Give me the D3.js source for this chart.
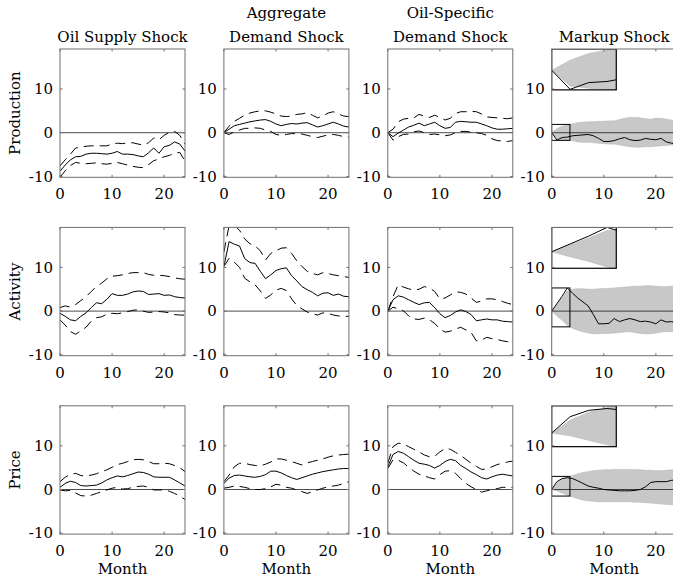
<!DOCTYPE html>
<html>
<head>
<meta charset="utf-8">
<script src="https://cdn.jsdelivr.net/npm/d3@7"></script>
<style>
  body { margin: 0; background: #fff; }
</style>
</head>
<body>
<div id="chart"></div>
<script>
// months 0..24
const months = d3.range(0, 25)
const shocks = [['Oil Supply Shock'], ['Aggregate', 'Demand Shock'], ['Oil-Specific', 'Demand Shock'], ['Markup Shock']]
const variables = ['Production', 'Activity', 'Price']
const xTicks = [0, 10, 20]
const yTicks = [-10, 0, 10]

// Production
const prodSupplyMed = [-8.8, -7.4, -6.2, -5.5, -5.4, -4.9, -4.7, -4.7, -4.8, -4.9, -4.7, -4.3, -4.9, -4.9, -5.0, -5.3, -5.5, -4.6, -3.5, -4.7, -3.2, -2.9, -2.1, -2.6, -4.2]
const prodSupplyHi = [-7.6, -6.2, -4.9, -3.5, -3.3, -3.1, -3.0, -3.0, -3.0, -3.0, -2.6, -2.4, -2.5, -2.3, -2.3, -2.6, -2.8, -2.3, -1.2, -1.6, -0.6, 0.1, 0.3, -0.6, -2.6]
const prodSupplyLo = [-10.2, -8.7, -7.5, -6.8, -7.0, -7.1, -7.0, -6.9, -7.1, -7.2, -7.0, -6.8, -7.1, -7.4, -7.7, -7.9, -8.0, -7.3, -6.4, -6.0, -5.5, -5.2, -4.7, -4.5, -6.5]

const prodAggMed = [0, 0.8, 1.6, 1.9, 2.2, 2.5, 2.7, 2.9, 3.0, 2.6, 2.0, 1.6, 1.9, 2.1, 2.0, 2.2, 2.3, 1.8, 1.3, 1.6, 2.0, 2.4, 2.0, 1.5, 1.3]
const prodAggHi = [0, 1.5, 2.6, 3.3, 4.0, 4.5, 4.8, 5.0, 5.0, 4.7, 4.3, 3.8, 3.7, 3.8, 4.2, 4.3, 4.6, 4.0, 3.4, 3.8, 4.5, 4.8, 4.3, 3.8, 3.7]
const prodAggLo = [0, -0.4, 0.2, 0.6, 1.0, 1.0, 1.1, 1.0, 0.6, 0.3, -0.4, -0.6, -0.4, -0.2, -0.2, -0.3, -0.6, -0.9, -1.1, -0.8, -0.5, -0.4, -0.6, -0.9, -1.0]

const prodOilMed = [0, -0.9, -0.1, 0.6, 1.3, 1.7, 2.2, 1.6, 2.0, 2.4, 1.6, 1.0, 1.2, 2.4, 2.6, 2.5, 2.4, 2.4, 2.0, 1.6, 1.1, 0.8, 0.8, 0.9, 1.0]
const prodOilHi = [0, 0.8, 2.5, 3.1, 3.3, 3.4, 4.2, 3.8, 3.5, 4.0, 3.5, 2.9, 3.3, 4.4, 4.8, 4.8, 4.9, 4.8, 4.3, 3.6, 3.5, 3.4, 3.3, 3.2, 3.4]
const prodOilLo = [0, -1.7, -0.9, -0.4, -0.3, 0.2, 0.4, 0.0, -0.4, -0.3, -0.5, -0.7, -0.5, 0.0, 0.3, 0.3, 0.1, 0.0, -0.2, -0.6, -1.4, -1.8, -1.9, -2.0, -1.8]

const prodMarkupMed = [0, -1.7, -1.1, -1.0, -0.7, -0.6, -0.5, -0.4, -0.7, -1.3, -2.0, -2.0, -1.8, -1.4, -1.1, -1.6, -1.8, -1.7, -1.3, -1.5, -1.6, -1.3, -2.1, -2.4, -2.6]
const prodMarkupHi = [0, 0.9, 1.5, 1.8, 2.0, 2.3, 2.4, 2.5, 2.5, 2.6, 2.6, 2.7, 2.7, 3.0, 3.3, 3.5, 3.5, 3.4, 3.2, 3.1, 3.3, 3.3, 3.1, 2.9, 2.9]
const prodMarkupLo = [0, -1.4, -1.6, -1.7, -1.8, -2.1, -2.2, -2.2, -2.3, -2.4, -2.5, -2.6, -2.6, -2.8, -3.0, -3.2, -3.3, -3.3, -3.2, -3.2, -3.1, -3.0, -2.9, -2.8, -2.8]

// Activity
const actSupplyMed = [-0.5, -1.2, -2.0, -2.2, -1.2, -0.4, 0.8, 1.9, 1.7, 2.7, 4.0, 3.6, 3.6, 3.9, 4.4, 4.6, 4.5, 3.8, 3.9, 4.0, 3.6, 3.7, 3.3, 3.1, 3.0]
const actSupplyHi = [0.8, 1.2, 0.9, 1.5, 2.4, 3.3, 4.5, 5.6, 6.4, 7.4, 8.0, 8.1, 8.3, 8.6, 8.8, 8.8, 8.8, 8.4, 8.2, 8.2, 8.1, 7.9, 7.6, 7.4, 7.3]
const actSupplyLo = [-2.0, -3.2, -4.7, -5.3, -4.5, -3.7, -2.3, -1.5, -1.3, -0.7, -0.5, -0.6, -0.4, -0.1, 0.2, 0.3, 0.0, -0.3, -0.2, -0.1, -0.2, -0.4, -0.8, -0.9, -0.9]

const actAggMed = [10.2, 15.9, 15.3, 14.9, 12.0, 11.1, 10.9, 9.1, 7.4, 8.3, 9.3, 9.7, 9.9, 8.1, 6.9, 5.6, 4.9, 4.3, 3.5, 4.1, 4.2, 3.6, 3.9, 3.4, 3.3]
const actAggHi = [13.5, 19.6, 19.6, 18.5, 16.5, 15.4, 14.9, 13.8, 11.7, 13.2, 13.8, 14.4, 14.5, 13.2, 11.5, 10.2, 9.1, 8.6, 8.3, 8.8, 8.6, 8.3, 8.1, 7.9, 7.7]
const actAggLo = [10.2, 12.1, 11.2, 10.0, 7.5, 6.7, 6.0, 4.6, 2.9, 3.7, 4.8, 5.2, 4.7, 2.8, 1.3, 0.5, -0.2, -0.6, -0.9, -0.4, -0.5, -0.9, -1.1, -1.2, -1.2]

const actOilMed = [0, 2.6, 3.5, 3.2, 2.6, 2.0, 1.5, 1.9, 2.0, 0.8, -0.6, -1.5, -1.0, -0.2, 0.3, -0.1, -0.8, -2.2, -2.0, -1.8, -2.0, -2.0, -2.3, -2.4, -2.5]
const actOilHi = [0, 3.3, 6.0, 5.5, 5.1, 4.8, 5.0, 5.6, 5.3, 4.5, 2.8, 3.0, 3.7, 4.4, 4.3, 3.9, 3.0, 2.0, 2.3, 2.8, 2.8, 2.6, 2.2, 1.8, 1.5]
const actOilLo = [0, 0.9, 0.5, 0.1, -1.1, -1.8, -1.9, -1.6, -2.0, -2.8, -4.1, -4.8, -4.6, -4.1, -3.7, -4.3, -4.9, -6.8, -6.6, -6.0, -6.3, -6.5, -6.8, -7.0, -7.0]

const actMarkupMed = [0, 1.7, 3.4, 5.3, 4.1, 3.0, 2.1, 1.2, -0.8, -2.9, -2.9, -2.8, -1.7, -2.4, -2.0, -1.7, -2.0, -2.4, -2.3, -2.5, -2.9, -2.0, -2.5, -2.4, -2.7]
const actMarkupHi = [0, 1.5, 3.0, 4.6, 5.0, 5.1, 5.1, 5.0, 5.0, 5.1, 5.2, 5.2, 5.3, 5.4, 5.5, 5.6, 5.7, 5.7, 5.8, 5.8, 5.7, 5.6, 5.6, 5.7, 5.8]
const actMarkupLo = [0, -1.1, -2.1, -3.3, -3.9, -4.4, -4.7, -5.0, -5.2, -5.2, -5.1, -5.1, -5.0, -4.9, -4.8, -4.7, -4.9, -5.1, -5.2, -5.2, -5.0, -4.8, -4.7, -4.7, -4.8]

// Price
const priceSupplyMed = [0.5, 1.4, 1.9, 1.6, 0.9, 0.8, 0.9, 1.0, 1.5, 2.2, 2.7, 3.1, 2.9, 3.2, 3.6, 4.0, 3.9, 3.5, 2.9, 2.8, 2.8, 2.8, 2.2, 1.5, 0.8]
const priceSupplyHi = [1.8, 2.8, 3.5, 3.7, 3.2, 3.1, 3.3, 3.6, 4.1, 4.5, 5.1, 5.7, 6.0, 6.4, 6.8, 6.9, 6.8, 6.4, 5.9, 5.9, 6.0, 5.9, 5.5, 5.0, 4.1]
const priceSupplyLo = [-0.1, -0.3, -0.2, -0.8, -1.4, -1.5, -1.3, -0.9, -0.5, -0.1, 0.3, 0.5, 0.1, 0.2, 0.5, 0.7, 0.8, 0.5, -0.1, -0.1, -0.1, -0.4, -0.9, -1.5, -2.3]

const priceAggMed = [1.4, 2.6, 3.2, 3.3, 3.1, 2.9, 2.8, 3.0, 3.4, 4.2, 4.2, 3.8, 3.2, 2.7, 2.3, 2.7, 3.1, 3.5, 3.8, 4.1, 4.3, 4.5, 4.7, 4.8, 4.8]
const priceAggHi = [1.8, 3.3, 5.2, 6.0, 6.0, 5.7, 5.5, 5.4, 5.8, 6.3, 7.0, 7.0, 6.7, 6.4, 6.0, 5.6, 6.1, 6.4, 6.7, 7.0, 7.4, 7.7, 7.9, 8.0, 8.1]
const priceAggLo = [0.3, 0.5, 0.8, 0.7, 0.5, 0.2, 0.0, 0.0, 0.2, 0.6, 1.2, 1.0, 0.5, 0.3, -0.1, -0.5, -0.9, -0.5, -0.1, 0.3, 0.6, 0.8, 1.0, 1.4, 1.8]

const priceOilMed = [5.2, 8.0, 8.7, 8.3, 7.5, 6.7, 6.0, 5.8, 5.5, 4.9, 5.5, 6.4, 6.9, 6.6, 5.5, 4.8, 4.0, 3.4, 2.7, 2.4, 2.9, 3.3, 3.5, 3.3, 3.1]
const priceOilHi = [6.0, 9.8, 10.6, 10.4, 9.8, 9.2, 8.6, 7.9, 7.5, 7.6, 8.6, 9.4, 9.2, 8.5, 7.8, 6.9, 6.0, 5.3, 4.6, 4.7, 5.2, 5.7, 6.0, 6.3, 6.5]
const priceOilLo = [4.8, 6.8, 6.7, 6.1, 5.1, 4.2, 3.5, 3.1, 2.7, 2.4, 3.4, 4.2, 4.3, 3.7, 2.5, 1.4, 0.6, 0.0, -0.6, -0.3, 0.0, 0.2, 0.5, 0.5, 0.5]

const priceMarkupMed = [0, 1.8, 2.5, 2.7, 2.5, 2.0, 1.4, 0.8, 0.5, 0.3, 0.0, -0.1, -0.2, -0.3, -0.3, -0.3, -0.2, 0.0, 0.6, 1.6, 1.8, 1.8, 1.8, 2.1, 2.2]
const priceMarkupHi = [0, 1.4, 2.3, 2.8, 3.2, 3.6, 3.9, 4.1, 4.3, 4.4, 4.5, 4.5, 4.6, 4.6, 4.6, 4.6, 4.5, 4.5, 4.4, 4.4, 4.3, 4.3, 4.4, 4.5, 4.5]
const priceMarkupLo = [0, -0.3, -0.8, -1.3, -1.7, -2.1, -2.4, -2.6, -2.7, -2.8, -2.8, -2.8, -2.8, -2.8, -2.8, -2.8, -2.9, -2.9, -3.0, -3.1, -3.2, -3.3, -3.4, -3.5, -3.5]

const panels = [
  [[prodSupplyMed, prodSupplyLo, prodSupplyHi], [prodAggMed, prodAggLo, prodAggHi], [prodOilMed, prodOilLo, prodOilHi], [prodMarkupMed, prodMarkupLo, prodMarkupHi]],
  [[actSupplyMed, actSupplyLo, actSupplyHi], [actAggMed, actAggLo, actAggHi], [actOilMed, actOilLo, actOilHi], [actMarkupMed, actMarkupLo, actMarkupHi]],
  [[priceSupplyMed, priceSupplyLo, priceSupplyHi], [priceAggMed, priceAggLo, priceAggHi], [priceOilMed, priceOilLo, priceOilHi], [priceMarkupMed, priceMarkupLo, priceMarkupHi]]
]

const width = 673, height = 579
const margin = {top: 49, left: 60},
  panelW = 125,
  panelH = 128.3,
  stepX = 163.9,
  stepY = 178.4,
  zoomX = 3.5,     // zoom box covers months 0..zoomX
  insetX = 12.4,   // inset spans months 0..insetX
  insetY = 9.8,    // inset spans y insetY..top
  fontFamily = "'DejaVu Serif', serif",
  fontSize = '15px'

const x = d3.scaleLinear().domain([0, 24]).range([0, panelW])
const y = d3.scaleLinear().domain([-10.2, 19.15]).range([panelH, 0])

const svg = d3.select('#chart').append('svg')
  .attr('width', width)
  .attr('height', height)
  .attr('font-family', fontFamily)
  .attr('font-size', fontSize)

svg.append('defs').append('clipPath')
  .attr('id', 'panel-clip')
  .append('rect')
  .attr('width', panelW)
  .attr('height', panelH)

const lineGen = (xs, ys) => d3.line()
  .x((d, i) => xs(months[i]))
  .y(d => ys(d))

const areaGen = (xs, ys, lo) => d3.area()
  .x((d, i) => xs(months[i]))
  .y0((d, i) => ys(lo[i]))
  .y1(d => ys(d))

// value of a series at fractional month m
const valueAt = (s, m) => {
  const i0 = Math.floor(m), t = m - i0
  return t === 0 ? s[i0] : d3.interpolateNumber(s[i0], s[i0 + 1])(t)
}

function drawPanel(g, series, markup, r) {
  const [med, lo, hi] = series
  const body = g.append('g').attr('clip-path', 'url(#panel-clip)')

  if (markup) {
    body.append('path')
      .attr('d', areaGen(x, y, lo)(hi))
      .attr('fill', '#c8c8c8')
      .attr('stroke', '#b8b8b8')
      .attr('stroke-width', 0.6)
  }

  body.append('line')
    .attr('x1', 0).attr('x2', panelW)
    .attr('y1', y(0)).attr('y2', y(0))
    .attr('stroke', '#000')
    .attr('stroke-width', 0.7)

  body.append('path')
    .attr('d', lineGen(x, y)(med))
    .attr('fill', 'none')
    .attr('stroke', '#000')
    .attr('stroke-width', 1)

  if (!markup) {
    [lo, hi].forEach(s => {
      body.append('path')
        .attr('d', lineGen(x, y)(s))
        .attr('fill', 'none')
        .attr('stroke', '#000')
        .attr('stroke-width', 1)
        .attr('stroke-dasharray', '10,6')
    })
  } else {
    // zoom box over first months, blown up in an inset
    const vals = []
    series.forEach(s => {
      months.filter(m => m <= zoomX).forEach(m => vals.push(s[m]))
      vals.push(valueAt(s, zoomX))
    })
    const ext = d3.extent(vals)

    body.append('rect')
      .attr('x', x(0)).attr('y', y(ext[1]))
      .attr('width', x(zoomX) - x(0))
      .attr('height', y(ext[0]) - y(ext[1]))
      .attr('fill', 'none')
      .attr('stroke', '#000')
      .attr('stroke-width', 1)

    const xi = d3.scaleLinear().domain([0, zoomX]).range([x(0), x(insetX)])
    const yi = d3.scaleLinear().domain(ext).range([y(insetY), 0])
    const inset = body.append('g')
    inset.append('clipPath')
      .attr('id', 'inset-clip-' + r)
      .append('rect')
      .attr('x', xi(0)).attr('y', 0)
      .attr('width', xi(zoomX) - xi(0))
      .attr('height', y(insetY))
    inset.append('rect')
      .attr('x', xi(0)).attr('y', 0)
      .attr('width', xi(zoomX) - xi(0))
      .attr('height', y(insetY))
      .attr('fill', '#fff')
    const ib = inset.append('g').attr('clip-path', `url(#inset-clip-${r})`)
    ib.append('path')
      .attr('d', areaGen(xi, yi, lo)(hi))
      .attr('fill', '#c8c8c8')
      .attr('stroke', '#b8b8b8')
      .attr('stroke-width', 0.6)
    ib.append('path')
      .attr('d', lineGen(xi, yi)(med))
      .attr('fill', 'none')
      .attr('stroke', '#000')
      .attr('stroke-width', 1)
    inset.append('rect')
      .attr('x', xi(0)).attr('y', 0)
      .attr('width', xi(zoomX) - xi(0))
      .attr('height', y(insetY))
      .attr('fill', 'none')
      .attr('stroke', '#000')
      .attr('stroke-width', 1.2)
  }

  // frame with inward ticks on all sides
  g.append('rect')
    .attr('width', panelW)
    .attr('height', panelH)
    .attr('fill', 'none')
    .attr('stroke', '#6e6e6e')
    .attr('stroke-width', 1)
  const tl = 2.5
  xTicks.forEach(t => {
    g.append('line').attr('x1', x(t)).attr('x2', x(t)).attr('y1', panelH).attr('y2', panelH - tl).attr('stroke', '#6e6e6e')
    g.append('line').attr('x1', x(t)).attr('x2', x(t)).attr('y1', 0).attr('y2', tl).attr('stroke', '#6e6e6e')
  })
  yTicks.forEach(t => {
    g.append('line').attr('x1', 0).attr('x2', tl).attr('y1', y(t)).attr('y2', y(t)).attr('stroke', '#6e6e6e')
    g.append('line').attr('x1', panelW).attr('x2', panelW - tl).attr('y1', y(t)).attr('y2', y(t)).attr('stroke', '#6e6e6e')
  })

  g.selectAll('.xtick')
    .data(xTicks)
    .enter().append('text')
    .attr('x', d => x(d))
    .attr('y', panelH + 22)
    .attr('text-anchor', 'middle')
    .text(d => d)
  g.selectAll('.ytick')
    .data(yTicks)
    .enter().append('text')
    .attr('x', -7)
    .attr('y', d => y(d))
    .attr('dy', '0.35em')
    .attr('text-anchor', 'end')
    .text(d => d)
}

panels.forEach((row, r) => {
  row.forEach((series, c) => {
    const g = svg.append('g')
      .attr('transform', `translate(${margin.left + c * stepX}, ${margin.top + r * stepY})`)
    drawPanel(g, series, c === 3, r)
  })
})

// column titles
shocks.forEach((lines, c) => {
  const cx = margin.left + c * stepX + panelW / 2
  lines.forEach((t, k) => {
    svg.append('text')
      .attr('x', cx)
      .attr('y', 42 - (lines.length - 1 - k) * 24.5)
      .attr('text-anchor', 'middle')
      .text(t)
  })
})

// row labels
variables.forEach((v, r) => {
  const cy = margin.top + r * stepY + panelH / 2
  svg.append('text')
    .attr('transform', `translate(20, ${cy}) rotate(-90)`)
    .attr('text-anchor', 'middle')
    .text(v)
})

// month labels under the bottom row
shocks.forEach((s, c) => {
  svg.append('text')
    .attr('x', margin.left + c * stepX + panelW / 2)
    .attr('y', 574)
    .attr('text-anchor', 'middle')
    .text('Month')
})
</script>
</body>
</html>
